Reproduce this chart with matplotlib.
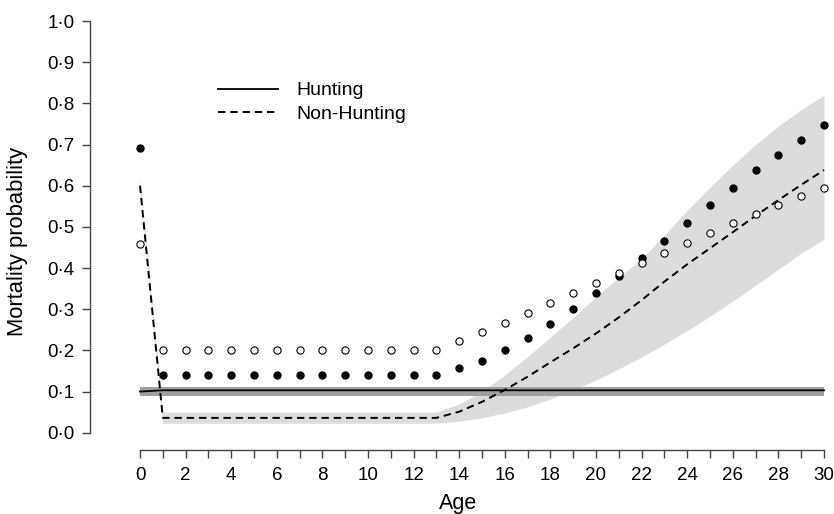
import numpy as np
import matplotlib.pyplot as plt

plt.rcParams['font.family'] = ['Liberation Sans', 'DejaVu Sans']

ages = list(range(31))

# observed mortality, hunting (filled) and non-hunting (open)
obs_hunting = [0.692] + [0.139] * 13 + [0.156, 0.175, 0.201, 0.231, 0.264, 0.300,
                                        0.339, 0.380, 0.424, 0.466, 0.510, 0.554,
                                        0.595, 0.637, 0.675, 0.712, 0.747]
obs_nonhunting = [0.458] + [0.200] * 13 + [0.223, 0.245, 0.267, 0.291, 0.316, 0.340,
                                           0.364, 0.389, 0.413, 0.437, 0.461, 0.484,
                                           0.509, 0.531, 0.552, 0.574, 0.595]

# fitted hunting curve and interval
fit_hunting = [0.100] + [0.103] * 30
hunting_lo = [0.088] * 31
hunting_hi = [0.112] * 31

# fitted non-hunting curve and interval
fit_nonhunting = [0.600] + [0.036] * 13 + [0.051, 0.075, 0.104, 0.136, 0.171, 0.205,
                                           0.241, 0.280, 0.322, 0.367, 0.409, 0.448,
                                           0.487, 0.527, 0.565, 0.602, 0.638]
nonhunting_lo = [0.585] + [0.023] * 13 + [0.028, 0.036, 0.048, 0.063, 0.082, 0.104,
                                          0.128, 0.155, 0.184, 0.215, 0.248, 0.283,
                                          0.320, 0.358, 0.397, 0.436, 0.470]
nonhunting_hi = [0.618] + [0.050] * 13 + [0.070, 0.100, 0.140, 0.185, 0.232, 0.280,
                                          0.330, 0.378, 0.422, 0.480, 0.540, 0.596,
                                          0.650, 0.700, 0.745, 0.785, 0.820]

fig = plt.figure(figsize=(8.34, 5.14), dpi=100)
ax = fig.add_axes([90 / 834, 1 - 450 / 514, 744 / 834, 440 / 514])

ax.fill_between(ages, nonhunting_lo, nonhunting_hi, color='#dcdcdc', lw=0, zorder=1)
ax.fill_between(ages, hunting_lo, hunting_hi, color='#a0a0a0', lw=0, zorder=2)
ax.plot(ages, fit_hunting, color='black', lw=1.3, zorder=3, label='Hunting')
ax.plot(ages, fit_nonhunting, color='black', lw=1.4, ls=(0, (3.8, 2.5)), zorder=3,
        label='Non-Hunting')
ax.plot(ages, obs_hunting, 'o', color='black', ms=5, zorder=4, clip_on=False)
ax.plot(ages, obs_nonhunting, 'o', mfc='white', mec='black', mew=0.8, ms=5.2,
        zorder=4, clip_on=False)

ax.set_xlim(-50 / 22.8, 30 + 10 / 22.8)
ax.set_ylim(-17.3 / 411.7, 1 + 11 / 411.7)

for side in ['top', 'right']:
    ax.spines[side].set_visible(False)
ax.spines['left'].set_bounds(0, 1)
ax.spines['bottom'].set_bounds(0, 30)
for side in ['left', 'bottom']:
    ax.spines[side].set_color('#444444')
    ax.spines[side].set_linewidth(1.0)

ax.set_xticks(ages)
ax.set_xticklabels([str(a) if a % 2 == 0 else '' for a in ages])
yt = np.round(np.arange(0, 1.01, 0.1), 1)
ax.set_yticks(yt)
ax.set_yticklabels([f'{v:.1f}'.replace('.', '\u00b7') for v in yt])
ax.tick_params(axis='both', direction='out', length=6, width=1.0, color='#444444',
               labelsize=13.5)
ax.tick_params(axis='y', pad=5)
ax.tick_params(axis='x', pad=6)

ax.set_xlabel('Age', fontsize=15.5)
ax.xaxis.set_label_coords((458 - 90) / 744, -(504 - 450) / 440)
ax.xaxis.label.set_va('center')
ax.set_ylabel('Mortality probability', fontsize=15.8)
ax.yaxis.set_label_coords(-(90 - 18) / 744, (450 - 241) / 440)
ax.yaxis.label.set_va('center')

ax.legend(loc='upper left', bbox_to_anchor=((210 - 90) / 744, (450 - 74) / 440),
          frameon=False, fontsize=14, handlelength=3.1, handletextpad=0.95,
          labelspacing=0.3, borderaxespad=0)

fig.savefig('out.png', dpi=100)
